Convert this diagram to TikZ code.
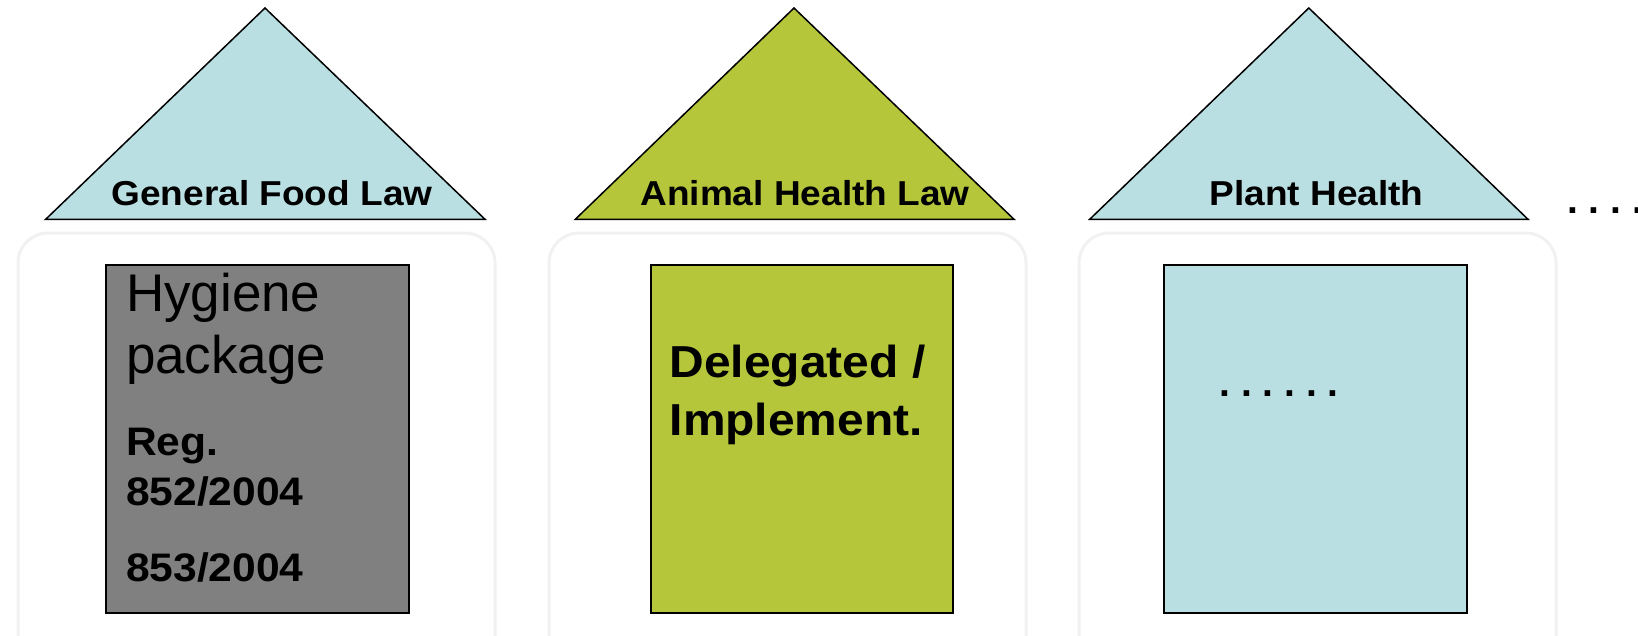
\documentclass[tikz,border=0pt]{standalone}
\usepackage{fontspec}
\setmainfont{Liberation Sans}
\newfontfamily\widesans{Liberation Sans}[FakeStretch=1.07]
\frenchspacing
\definecolor{roofblue}{HTML}{B9DFE3}
\definecolor{roofgreen}{HTML}{B5C63A}
\definecolor{pillargray}{HTML}{808080}
\definecolor{panelgray}{HTML}{F1F1F1}

\begin{document}
\begin{tikzpicture}[x=1pt, y=-1pt,
    every node/.style = {inner sep=0pt, outer sep=0pt, anchor=base west},
    roof/.style = {draw, line width=1.5pt},
    pillar/.style = {draw, line width=2pt},
    rooftext/.style = {anchor=base, font=\widesans\bfseries\fontsize{34.6}{40}\selectfont},
    bigtext/.style = {font=\fontsize{53}{62}\selectfont},
    regtext/.style = {font=\widesans\bfseries\fontsize{39.8}{46}\selectfont},
    deltext/.style = {font=\widesans\bfseries\fontsize{44.8}{52}\selectfont},
    dottext/.style = {font=\bfseries\fontsize{39}{46}\selectfont}]
  \useasboundingbox (0, 0) rectangle (1638, 635);
%    faint panels behind the pillars
  \foreach \l/\r in {18/495, 549/1026, 1079/1556} {
    \draw [panelgray, line width=3pt, rounded corners=30pt] (\l, 660) -- (\l, 233) -- (\r, 233) -- (\r, 660);
  }
  % roofs
  \draw [roof, fill=roofblue] (45.7, 219.3) -- (265, 8) -- (485, 219.3) -- cycle;
  \draw [roof, fill=roofgreen] (575.3, 219.3) -- (794, 8) -- (1014, 219.3) -- cycle;
  \draw [roof, fill=roofblue] (1089.7, 219.3) -- (1308.8, 8) -- (1528, 219.3) -- cycle;
  \node [rooftext] (food) at (272, 205.7) {General Food Law};
  \node [rooftext] (animal) at (805, 205.7) {Animal Health Law};
  \node [rooftext] (plant) at (1316.5, 205.7) {Plant Health};
  \node [dottext] (more) at (1567, 213.5) {. . . .};
  % pillars
  \draw [pillar, fill=pillargray] (105.7, 264.7) rectangle (409.3, 612.7);
  \draw [pillar, fill=roofgreen] (650.7, 264.7) rectangle (953.3, 612.7);
  \draw [pillar, fill=roofblue] (1164.3, 264.7) rectangle (1467.3, 612.7);
  \node [bigtext] (hyg1) at (126, 311.7) {Hygiene};
  \node [bigtext] (hyg2) at (126, 373.2) {package};
  \node [regtext] (reg) at (126, 455) {Reg.};
  \node [regtext] (reg852) at (126, 505) {852/2004};
  \node [regtext] (reg853) at (126, 581.7) {853/2004};
  \node [deltext] (del1) at (669.7, 377.3) {Delegated /};
  \node [deltext] (del2) at (669.7, 435) {Implement.};
  \node [dottext] (plantdots) at (1219.5, 396) {. . . . . .};
\end{tikzpicture}
\end{document}
